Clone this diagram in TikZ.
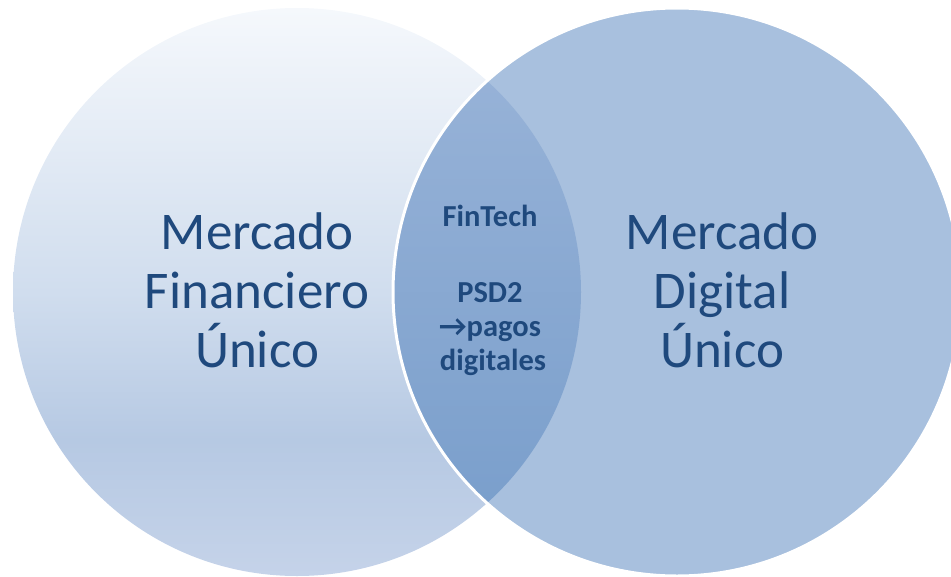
\documentclass[tikz,border=0pt]{standalone}
\usepackage{fontspec}
\setmainfont{Carlito}
\definecolor{txt}{RGB}{31,73,125}
\definecolor{rightfill}{RGB}{168,192,222}
\definecolor{lensTop}{RGB}{155,181,217}
\definecolor{lensBot}{RGB}{118,156,202}
\pgfdeclareverticalshading{leftshade}{100bp}{%
  rgb(0bp)=(0.773,0.827,0.914);
  rgb(25bp)=(0.773,0.827,0.914);
  rgb(37bp)=(0.714,0.788,0.890);
  rgb(50bp)=(0.816,0.867,0.933);
  rgb(75bp)=(0.961,0.973,0.988);
  rgb(100bp)=(0.961,0.973,0.988)}
\tikzset{
  bigtext/.style={text=txt,font=\fontsize{53}{58}\selectfont,anchor=base,inner sep=0pt},
  smalltext/.style={text=txt,font=\fontsize{30.5}{34}\selectfont\bfseries,anchor=base,inner sep=0pt}
}
\begin{document}
\begin{tikzpicture}[x=1pt,y=-1pt]
\useasboundingbox (0,0) rectangle (951,576);
% left circle
\shade[shading=leftshade] (297,292) circle (284);
% right circle fill
\fill[rightfill] (677,292) circle (284);
% lens
\begin{scope}
  \clip (297,292) circle (284);
  \shade[top color=lensTop,bottom color=lensBot] (677,292) circle (284);
\end{scope}
% white outline of right circle
\draw[white,line width=3] (677,292) circle (284);
% texts
\node[bigtext] (l1) at (257,249) {Mercado};
\node[bigtext] (l2) at (257,308) {Financiero};
\node[bigtext] (l3) at (257,367) {Único};
\node[bigtext] (r1) at (722,249) {Mercado};
\node[bigtext] (r2) at (722,308) {Digital};
\node[bigtext] (r3) at (722,367) {Único};
\node[smalltext] (c1) at (490,226) {FinTech};
\node[smalltext] (c2) at (490,302) {PSD2};
\node[smalltext] (c3) at (490,336) {→pagos};
\node[smalltext] (c4) at (493,370) {digitales};
\end{tikzpicture}
\end{document}
